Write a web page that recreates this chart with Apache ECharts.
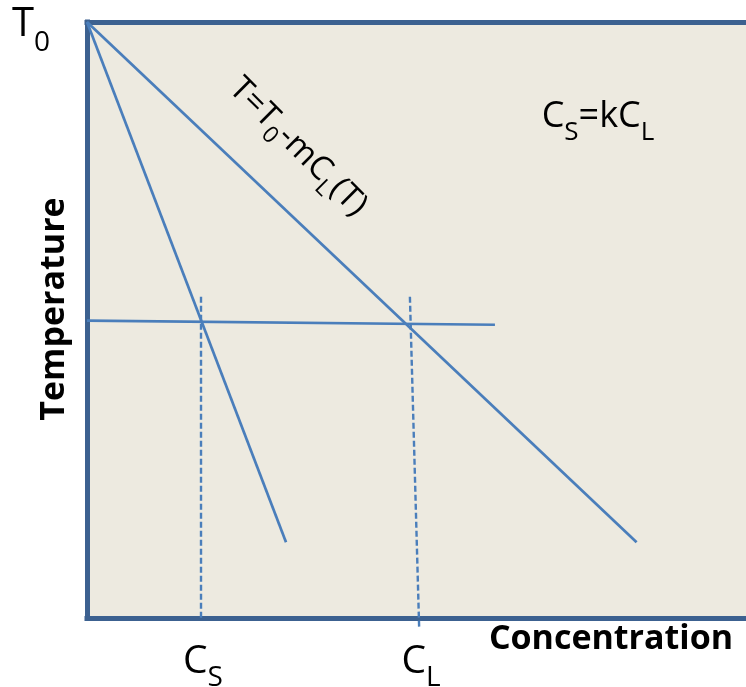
<!DOCTYPE html>
<html>
<head>
<meta charset="utf-8">
<script src="https://cdn.jsdelivr.net/npm/echarts@6/dist/echarts.min.js"></script>
<style>
  html, body { margin: 0; padding: 0; background: #ffffff; }
  #chart { width: 746px; height: 687px; }
</style>
</head>
<body>
<div id="chart"></div>
<script>
// Schematic binary phase diagram, concentration and temperature in arbitrary units (0–10).
const axisRange = [0, 10];

// Liquidus: T = T0 - m·C_L(T), starting at the melting point T0
const liquidus = [[0, 10], [8.34, 1.27]];
// Solidus: C_S = k·C_L
const solidus = [[0, 10], [3.02, 1.27]];
// Isotherm (tie line) at the chosen temperature
const tieLine = [[0, 4.99], [6.19, 4.92]];
// Dashed drop lines to the solid and liquid compositions
const csDrop = [[1.73, 5.39], [1.73, 0]];
const clDrop = [[4.90, 5.39], [5.04, -0.15]];

const lineBlue = '#4A7EBB';
const frameBlue = '#3C6190';
const font = '"Open Sans", "DejaVu Sans", sans-serif';

const chart = echarts.init(document.getElementById('chart'), null, { renderer: 'canvas' });

const frameAxis = {
  type: 'value',
  min: axisRange[0],
  max: axisRange[1],
  axisLine: { show: true, onZero: false, lineStyle: { color: frameBlue, width: 5, cap: 'square' } },
  axisTick: { show: false },
  axisLabel: { show: false },
  splitLine: { show: false }
};

function solid(data) {
  return {
    type: 'line', data, symbol: 'none', clip: false, silent: true,
    lineStyle: { color: lineBlue, width: 2.7 }
  };
}
function dashed(data) {
  return {
    type: 'line', data, symbol: 'none', clip: false, silent: true,
    lineStyle: { color: lineBlue, width: 2.4, type: [6, 3] }
  };
}

// Rich-text styles for a main run plus a lowered subscript run
function sub(mainSize, subSize, shift) {
  return {
    m: { fontSize: mainSize, fontFamily: font, fill: '#000', lineHeight: subSize + shift * 2 + 4 },
    s: { fontSize: subSize, fontFamily: font, fill: '#000', lineHeight: subSize + 4, verticalAlign: 'bottom' }
  };
}

chart.setOption({
  animation: false,
  backgroundColor: '#ffffff',
  grid: {
    left: 87, right: 0, top: 22, bottom: 69,
    show: true, backgroundColor: '#EDEAE0', borderWidth: 0
  },
  xAxis: [
    Object.assign({ position: 'bottom' }, frameAxis),
    Object.assign({ position: 'top' }, frameAxis)
  ],
  yAxis: [Object.assign({ position: 'left' }, frameAxis)],
  series: [
    solid(liquidus),
    solid(solidus),
    solid(tieLine),
    dashed(csDrop),
    dashed(clDrop)
  ],
  graphic: [
    {
      type: 'text', x: 31, y: 25,
      style: { text: '{m|T}{s|0}', rich: sub(40, 28, 16), align: 'center', verticalAlign: 'middle' }
    },
    {
      type: 'text', x: 203, y: 662,
      style: { text: '{m|C}{s|S}', rich: sub(39, 28, 14), align: 'center', verticalAlign: 'middle' }
    },
    {
      type: 'text', x: 421, y: 662,
      style: { text: '{m|C}{s|L}', rich: sub(39, 28, 14), align: 'center', verticalAlign: 'middle' }
    },
    {
      type: 'text', x: 598, y: 117,
      style: { text: '{m|C}{s|S}{m|=kC}{s|L}', rich: sub(36, 26, 14), align: 'center', verticalAlign: 'middle' }
    },
    {
      type: 'text', x: 298, y: 147, rotation: -Math.PI / 4,
      style: { text: '{m|T=T}{s|0}{m|-mC}{s|L}{m|(T)}', rich: sub(33, 23, 10), align: 'center', verticalAlign: 'middle' }
    },
    {
      type: 'text', x: 54, y: 309, rotation: Math.PI / 2,
      style: { text: 'Temperature', font: 'bold 34px ' + font, fill: '#000', align: 'center', verticalAlign: 'middle' }
    },
    {
      type: 'text', x: 611, y: 639,
      style: { text: 'Concentration', font: 'bold 34px ' + font, fill: '#000', align: 'center', verticalAlign: 'middle' }
    }
  ]
});
</script>
</body>
</html>
